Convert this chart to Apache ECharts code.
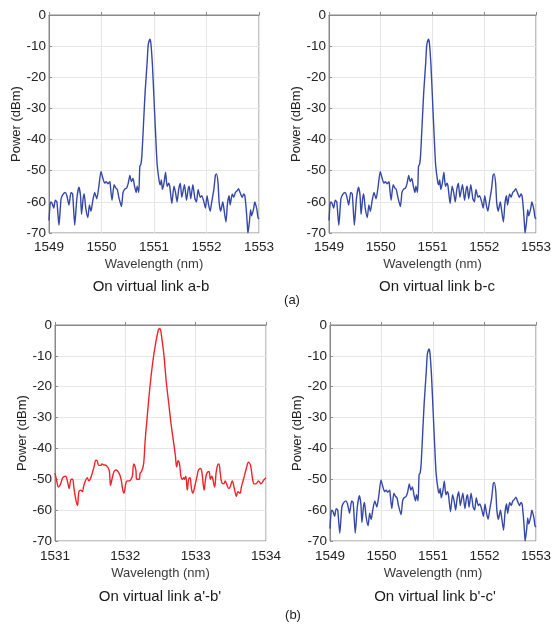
<!DOCTYPE html>
<html>
<head>
<meta charset="utf-8">
<script src="https://cdn.jsdelivr.net/npm/echarts@6/dist/echarts.min.js"></script>
<style>html,body{margin:0;padding:0;background:#fff;}#c{width:554px;height:624px;}</style>
</head>
<body>
<div id="c"></div>
<script>
// Blue spectrum (links a-b, b-c, b'-c')
const blueWl = [1549.00,1549.02,1549.04,1549.06,1549.09,1549.12,1549.15,1549.19,1549.23,1549.27,1549.31,1549.34,1549.38,1549.42,1549.45,1549.49,1549.53,1549.57,1549.60,1549.62,1549.65,1549.67,1549.70,1549.74,1549.77,1549.80,1549.83,1549.87,1549.91,1549.95,1549.99,1550.02,1550.06,1550.09,1550.12,1550.16,1550.17,1550.20,1550.24,1550.27,1550.30,1550.33,1550.38,1550.41,1550.44,1550.48,1550.51,1550.54,1550.57,1550.60,1550.63,1550.66,1550.68,1550.71,1550.73,1550.75,1550.77,1550.80,1550.83,1550.87,1550.89,1550.92,1550.94,1550.97,1551.00,1551.03,1551.06,1551.10,1551.12,1551.14,1551.16,1551.19,1551.22,1551.25,1551.28,1551.30,1551.34,1551.38,1551.41,1551.44,1551.47,1551.50,1551.53,1551.56,1551.58,1551.62,1551.65,1551.67,1551.70,1551.74,1551.78,1551.81,1551.84,1551.88,1551.91,1551.95,1551.98,1552.01,1552.04,1552.07,1552.10,1552.14,1552.17,1552.19,1552.22,1552.24,1552.27,1552.31,1552.33,1552.37,1552.40,1552.43,1552.45,1552.49,1552.52,1552.55,1552.58,1552.61,1552.64,1552.68,1552.71,1552.73,1552.76,1552.78,1552.79,1552.82,1552.84,1552.86,1552.90,1552.92,1552.96,1552.98,1553.00];
const bluePw = [-66,-61,-60,-60.5,-62,-59.5,-60,-67.5,-59,-57.5,-57,-58,-61,-57,-57.5,-67.5,-59,-55.3,-58,-64,-59,-57.5,-62,-65,-61,-63,-60,-57,-59,-55,-50.2,-52,-54,-53.5,-54.2,-53.5,-55,-59.5,-54.5,-55.5,-56,-58.5,-61.5,-57,-56,-55.5,-54,-51.5,-53.5,-52.5,-55,-57,-55,-57,-48.5,-48,-45,-35,-25,-15,-9.5,-7.8,-9,-16,-27,-38,-48,-53.5,-54.5,-53,-56,-54,-50.5,-55,-54,-55,-60.5,-55,-57,-60,-56,-54,-58.5,-56,-54.5,-59.5,-56,-55,-59,-54.5,-59,-60,-56,-58.5,-58,-60,-62,-58,-61,-63,-60,-56,-51.5,-51,-54,-60,-63,-60,-62,-66.5,-60.5,-58,-61,-57.5,-58.5,-57,-56.5,-55.8,-57,-58.5,-57.5,-58,-63,-68,-70,-66,-62.5,-64.5,-62,-60,-62.5,-65,-65.5];

// Red spectrum (link a'-b')
const redWl = [1531.00,1531.02,1531.05,1531.08,1531.11,1531.15,1531.18,1531.20,1531.23,1531.25,1531.27,1531.30,1531.32,1531.34,1531.37,1531.39,1531.41,1531.46,1531.48,1531.50,1531.53,1531.56,1531.58,1531.60,1531.62,1531.65,1531.67,1531.69,1531.73,1531.77,1531.79,1531.81,1531.84,1531.87,1531.91,1531.94,1531.96,1531.98,1532.01,1532.03,1532.06,1532.08,1532.10,1532.12,1532.15,1532.16,1532.18,1532.20,1532.21,1532.23,1532.26,1532.28,1532.31,1532.35,1532.39,1532.43,1532.46,1532.48,1532.50,1532.52,1532.55,1532.58,1532.62,1532.65,1532.68,1532.71,1532.73,1532.75,1532.77,1532.79,1532.81,1532.83,1532.84,1532.86,1532.88,1532.90,1532.92,1532.94,1532.96,1532.99,1533.02,1533.04,1533.07,1533.09,1533.12,1533.14,1533.16,1533.19,1533.21,1533.23,1533.24,1533.27,1533.29,1533.31,1533.33,1533.35,1533.37,1533.40,1533.42,1533.44,1533.47,1533.49,1533.52,1533.55,1533.58,1533.60,1533.63,1533.65,1533.68,1533.72,1533.75,1533.78,1533.81,1533.83,1533.86,1533.89,1533.91,1533.93,1533.96,1533.98,1534.00];
const redPw = [-48,-50,-52.5,-51.5,-49.5,-49,-51,-53,-50,-50,-53,-57,-58.5,-54,-53.5,-54,-52,-49.5,-50.5,-50,-48,-45.5,-43.8,-44,-45.5,-45.5,-45,-45.3,-45.5,-47,-52,-50,-47.5,-47,-48,-50,-53,-54.5,-51,-50.5,-50.5,-50,-49,-45,-47,-50,-50,-50,-48,-47.5,-45,-38,-30,-20,-12,-6,-2.5,-1.2,-1.5,-4.5,-10,-18,-26,-32,-37,-42,-46,-44,-45,-49,-50,-49.5,-50,-49,-53.5,-50,-49.5,-53,-54.5,-52,-49,-47,-46.5,-48,-53.5,-50,-48,-47.5,-50,-49,-49.5,-52.5,-48,-45.5,-45,-48,-51,-51.5,-50.5,-51.5,-53,-52.5,-50.5,-53,-55.5,-54,-54.5,-52.5,-50,-46.5,-44.5,-45.5,-50,-51.5,-51.5,-50.5,-51,-51.5,-50.5,-50,-49.5];

const yTicks = {min: -70, max: 0, step: 10};
const xRangeBlue = {min: 1549, max: 1553, step: 1};
const xRangeRed = {min: 1531, max: 1534, step: 1};
const subtitles = ['On virtual link a-b', 'On virtual link b-c', "On virtual link a'-b'", "On virtual link b'-c'"];
const panelTags = ['(a)', '(b)'];
const xName = 'Wavelength (nm)';
const yName = 'Power (dBm)';

const zip = (a, b) => a.map((v, i) => [v, b[i]]);
const FONT = 'Liberation Sans, Arial, sans-serif';
const BLUE = '#3548a8';
const RED = '#f0232b';

const grids = [
  {left: 49, top: 15, width: 210, height: 218},
  {left: 329, top: 15, width: 209, height: 218},
  {left: 55, top: 325, width: 211, height: 216},
  {left: 330, top: 325, width: 209, height: 216}
].map(g => Object.assign({show: true, borderColor: '#8a8a8a', borderWidth: 1, containLabel: false}, g));

const ranges = [xRangeBlue, xRangeBlue, xRangeRed, xRangeBlue];
const xAxes = ranges.map((r, i) => ({
  type: 'value', gridIndex: i, min: r.min, max: r.max, interval: r.step,
  name: xName, nameLocation: 'middle', nameGap: i < 2 ? 25 : 26,
  nameTextStyle: {fontFamily: FONT, fontSize: 13, color: '#3a3a3a'},
  axisLine: {lineStyle: {color: '#8a8a8a'}},
  axisTick: {inside: true, length: 3, lineStyle: {color: '#8a8a8a'}},
  axisLabel: {fontFamily: FONT, fontSize: 13.5, color: '#222', margin: i < 2 ? 7 : 8,
    formatter: v => String(Math.round(v))},
  splitLine: {show: true, lineStyle: {color: '#e6e6e6'}}
}));
const yAxes = ranges.map((r, i) => ({
  type: 'value', gridIndex: i, min: yTicks.min, max: yTicks.max, interval: yTicks.step,
  name: yName, nameLocation: 'middle', nameGap: 25,
  nameTextStyle: {fontFamily: FONT, fontSize: 13, color: '#222'},
  axisLine: {show: true, lineStyle: {color: '#8a8a8a'}},
  axisTick: {show: true, inside: true, length: 3, lineStyle: {color: '#8a8a8a'}},
  axisLabel: {fontFamily: FONT, fontSize: 13.5, color: '#222', margin: 3},
  splitLine: {show: true, lineStyle: {color: '#e6e6e6'}}
}));

const blueData = zip(blueWl, bluePw);
const redData = zip(redWl, redPw);
const seriesData = [blueData, blueData, redData, blueData];
const series = seriesData.map((d, i) => ({
  type: 'line', xAxisIndex: i, yAxisIndex: i, data: d, showSymbol: false,
  smooth: i === 2 ? 0.35 : 0.2,
  lineStyle: {color: i === 2 ? RED : BLUE, width: 1.4},
  silent: true, animation: false
}));

const subPos = [[146, 283], [432, 283], [155, 593], [430, 593]];
const titles = subtitles.map((t, i) => ({
  text: t, left: subPos[i][0], top: subPos[i][1] - 9, textAlign: 'center',
  textStyle: {fontFamily: FONT, fontSize: 15, fontWeight: 'normal', color: '#1a1a1a'}
}));
titles.push({text: panelTags[0], left: 287, top: 289, textAlign: 'center',
  textStyle: {fontFamily: FONT, fontSize: 13, fontWeight: 'normal', color: '#1a1a1a'}});
titles.push({text: panelTags[1], left: 288, top: 604, textAlign: 'center',
  textStyle: {fontFamily: FONT, fontSize: 13, fontWeight: 'normal', color: '#1a1a1a'}});

const chart = echarts.init(document.getElementById('c'), null, {renderer: 'canvas'});
chart.setOption({
  backgroundColor: '#fff',
  animation: false,
  title: titles,
  grid: grids,
  xAxis: xAxes,
  yAxis: yAxes,
  series: series
});
</script>
</body>
</html>
